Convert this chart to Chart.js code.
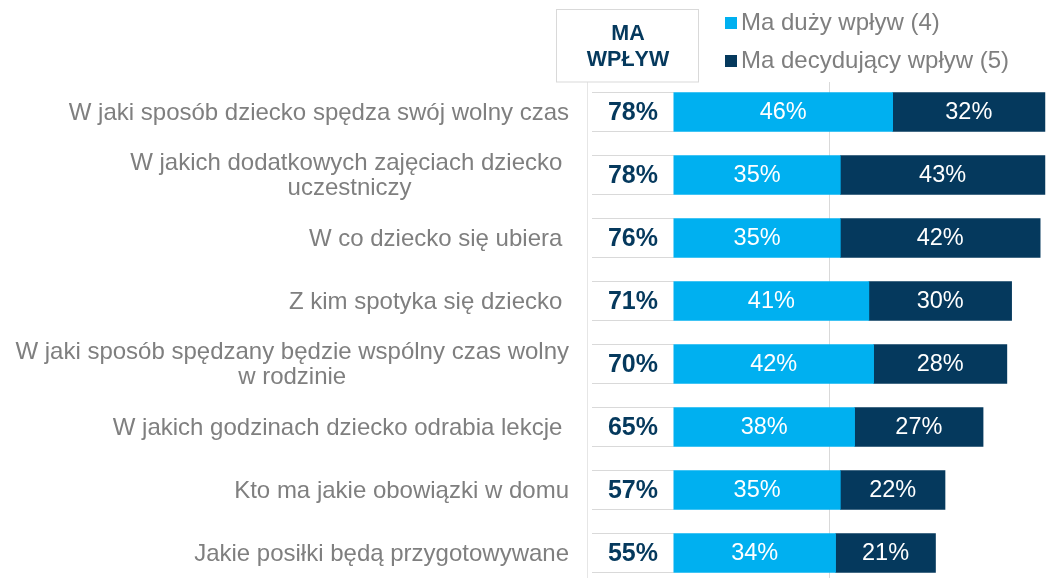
<!DOCTYPE html>
<html>
<head>
<meta charset="utf-8">
<title>Ma wpływ</title>
<script src="https://cdn.jsdelivr.net/npm/chart.js@4.4.0/dist/chart.umd.min.js"></script>
<style>
  body { margin: 0; background: #fff; }
  canvas { display: block; }
</style>
</head>
<body>
<canvas id="influenceChart" width="1053" height="578"></canvas>
<script>
// data
let categories = [
  ["W jaki sposób dziecko spędza swój wolny czas"],
  ["W jakich dodatkowych zajęciach dziecko ", "uczestniczy"],
  ["W co dziecko się ubiera "],
  ["Z kim spotyka się dziecko "],
  ["W jaki sposób spędzany będzie wspólny czas wolny", "w rodzinie"],
  ["W jakich godzinach dziecko odrabia lekcje "],
  ["Kto ma jakie obowiązki w domu"],
  ["Jakie posiłki będą przygotowywane"]
]
let bigInfluence = [46, 35, 35, 41, 42, 38, 35, 34]
let decisiveInfluence = [32, 43, 42, 30, 28, 27, 22, 21]
let totals = [78, 78, 76, 71, 70, 65, 57, 55]
let seriesLabels = ["Ma duży wpływ (4)", "Ma decydujący wpływ (5)"]
let headerLines = ["MA", "WPŁYW"]
let refLineValue = 32.6

let lightBlue = "#00b0f0"
let navy = "#05395d"
let gray = "#7f7f7f"
let lineGray = "#d9d9d9"
let fontFamily = "'Liberation Sans', Arial, sans-serif"

let canvas = document.querySelector("#influenceChart")

let decorPlugin = {
  id: "decor",
  beforeDatasetsDraw(chart) {
    let ctx = chart.ctx
    let area = chart.chartArea
    let xScale = chart.scales.x
    let yScale = chart.scales.y
    let topLine = area.top - 30
    ctx.save()
    // thin vertical guide lines
    ctx.strokeStyle = lineGray
    ctx.lineWidth = 1
    let rx = Math.round(xScale.getPixelForValue(refLineValue)) + 0.5
    ctx.beginPath()
    ctx.moveTo(rx, topLine)
    ctx.lineTo(rx, chart.height)
    ctx.stroke()
    ctx.strokeStyle = "#e6e6e6"
    ctx.beginPath()
    ctx.moveTo(area.left - 4.5, topLine)
    ctx.lineTo(area.left - 4.5, chart.height)
    ctx.stroke()

    // boxes for the totals column
    let x0 = xScale.getPixelForValue(0)
    totals.forEach(function(t, i) {
      let y = yScale.getPixelForValue(i)
      let top = Math.round(y - 20) + 0.5
      let bottom = Math.round(y + 20) - 0.5
      ctx.fillStyle = "#fff"
      ctx.fillRect(area.left, top, x0 - area.left, bottom - top)
      ctx.strokeStyle = lineGray
      ctx.beginPath()
      ctx.moveTo(area.left, top)
      ctx.lineTo(x0, top)
      ctx.moveTo(area.left, bottom)
      ctx.lineTo(x0, bottom)
      ctx.stroke()
    })

    // header box
    ctx.fillStyle = "#fff"
    ctx.fillRect(556.5, 9.5, 142, topLine - 9.5)
    ctx.strokeStyle = lineGray
    ctx.strokeRect(556.5, 9.5, 142, topLine - 9.5)
    ctx.fillStyle = navy
    ctx.font = "bold 21.5px " + fontFamily
    ctx.textAlign = "center"
    ctx.textBaseline = "middle"
    ctx.fillText(headerLines[0], 628, 34)
    ctx.fillText(headerLines[1], 628, 60)

    // legend
    ctx.font = "24px " + fontFamily
    ctx.textAlign = "left"
    chart.data.datasets.forEach(function(ds, i) {
      let ly = 23 + i * 38
      ctx.fillStyle = ds.backgroundColor
      ctx.fillRect(725, ly - 6, 12, 12)
      ctx.fillStyle = gray
      ctx.fillText(ds.label, 741, ly)
    })

    // category labels, each block right aligned, lines centred
    ctx.font = "24px " + fontFamily
    ctx.fillStyle = gray
    ctx.textAlign = "center"
    categories.forEach(function(lines, i) {
      let y = yScale.getPixelForValue(i)
      let w = Math.max.apply(null, lines.map(function(l) { return ctx.measureText(l).width }))
      let cx = 569 - w / 2
      let lineH = 25
      lines.forEach(function(l, j) {
        ctx.fillText(l, cx, y + (j - (lines.length - 1) / 2) * lineH + 1)
      })
    })
    ctx.restore()
  },
  afterDatasetsDraw(chart) {
    let ctx = chart.ctx
    let area = chart.chartArea
    let xScale = chart.scales.x
    let yScale = chart.scales.y
    ctx.save()
    ctx.textAlign = "center"
    ctx.textBaseline = "middle"
    // values inside the bars
    ctx.font = "23.5px " + fontFamily
    ctx.fillStyle = "#fff"
    chart.data.datasets.forEach(function(ds, d) {
      let meta = chart.getDatasetMeta(d)
      meta.data.forEach(function(bar, i) {
        let p = bar.getProps(["x", "y", "base"], true)
        ctx.fillText(ds.data[i] + "%", (p.x + p.base) / 2, p.y + 1)
      })
    })
    // totals
    ctx.font = "bold 25px " + fontFamily
    ctx.fillStyle = navy
    let x0 = xScale.getPixelForValue(0)
    totals.forEach(function(t, i) {
      ctx.fillText(t + "%", (area.left + x0) / 2, yScale.getPixelForValue(i) + 1)
    })
    ctx.restore()
  }
}

let chartConfig = {
  type: "bar",
  data: {
    labels: categories,
    datasets: [
      {
        label: seriesLabels[0],
        data: bigInfluence,
        backgroundColor: lightBlue,
        barThickness: 39,
        clip: false
      },
      {
        label: seriesLabels[1],
        data: decisiveInfluence,
        backgroundColor: navy,
        barThickness: 39,
        clip: false
      }
    ]
  },
  options: {
    indexAxis: "y",
    responsive: false,
    animation: false,
    devicePixelRatio: 1,
    layout: { padding: { top: 112, bottom: 25, left: 0, right: 0 } },
    plugins: {
      legend: { display: false },
      tooltip: { enabled: false }
    },
    scales: {
      x: {
        stacked: true,
        min: -17.2,
        max: 79.7,
        display: false
      },
      y: {
        stacked: true,
        offset: false,
        grid: { display: false },
        border: { display: false },
        ticks: { display: false },
        afterFit: function(scale) {
          scale.width = 592
        }
      }
    }
  },
  plugins: [decorPlugin]
}

new Chart(canvas, chartConfig)
</script>
</body>
</html>
